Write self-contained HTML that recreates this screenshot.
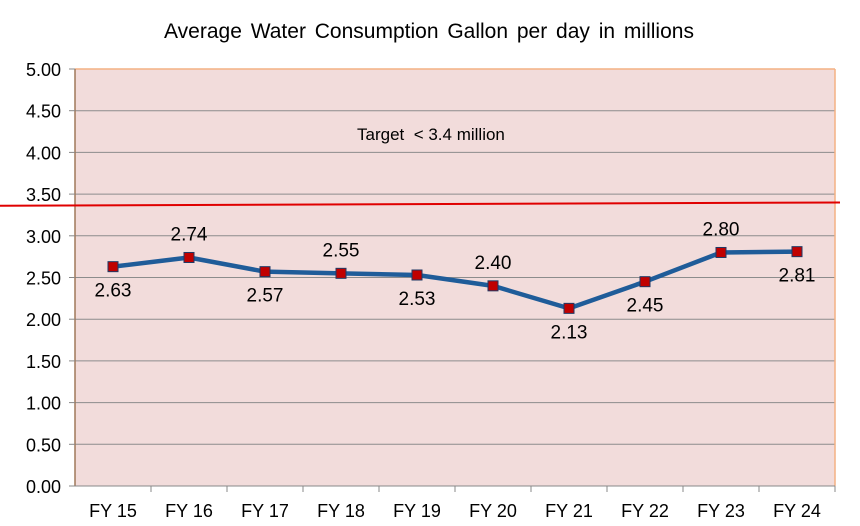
<!DOCTYPE html>
<html><head><meta charset="utf-8"><style>
body{margin:0;background:#fff;}
svg{display:block;font-family:"Liberation Sans",Arial,sans-serif;}
</style></head><body>
<svg id="chart" width="860" height="526">
<text x="429" y="38" font-size="21" word-spacing="3" text-anchor="middle" fill="#000">Average Water Consumption  Gallon per day in millions</text>
<rect x="75" y="69" width="760" height="417" fill="#f2dcdb"/>
<g id="grid"></g>
<line x1="75" y1="69" x2="835" y2="69" stroke="#f4b183" stroke-width="1.5"/>
<line x1="835" y1="69" x2="835" y2="486" stroke="#f4b183" stroke-width="1.5"/>
<line x1="75" y1="69" x2="75" y2="486" stroke="#a0785a" stroke-width="1.5"/>
<line x1="75" y1="486" x2="835" y2="486" stroke="#888" stroke-width="1"/>
<g id="ticks"></g>
<line id="target" stroke="#e00000" stroke-width="2"/>
<text x="357" y="140" font-size="17" xml:space="preserve" style="white-space:pre" fill="#000">Target  &lt; 3.4 million</text>
<g id="series"></g>
</svg>
<script>
const categories=["FY 15","FY 16","FY 17","FY 18","FY 19","FY 20","FY 21","FY 22","FY 23","FY 24"];
const values=[2.63,2.74,2.57,2.55,2.53,2.40,2.13,2.45,2.80,2.81];
const labelAbove=[false,true,false,true,false,true,false,false,true,false];
const yTicks=["0.00","0.50","1.00","1.50","2.00","2.50","3.00","3.50","4.00","4.50","5.00"];
const targetStart=3.36, targetEnd=3.40;
const NS="http://www.w3.org/2000/svg";
const L=75,R=835,T=69,B=486,yMax=5;
const y=v=>B-(v/yMax)*(B-T);
const bw=(R-L)/categories.length;
const x=i=>L+bw*(i+0.5);
function mk(tag,attrs,parent){const e=document.createElementNS(NS,tag);for(const k in attrs)e.setAttribute(k,attrs[k]);parent.appendChild(e);return e;}
const grid=document.getElementById('grid'),ticks=document.getElementById('ticks'),ser=document.getElementById('series');
yTicks.forEach(t=>{const v=parseFloat(t),yy=y(v);
 if(v>0&&v<yMax){const g=mk('line',{x1:L,x2:R,y1:yy,y2:yy,stroke:'#8c8c8c','stroke-width':1},grid);
 
 }
 const tk=mk('line',{x1:L-6,x2:L,y1:yy,y2:yy,stroke:'#888'},ticks);
 
 
 const tx=mk('text',{x:L-14,y:yy+7,'font-size':18,'text-anchor':'end',fill:'#000'},ticks);tx.textContent=t;
 
 
});
categories.forEach((c,i)=>{const xx=L+bw*(i+1);
 const tk=mk('line',{x1:xx,x2:xx,y1:B,y2:B+6,stroke:'#888'},ticks);
 
 
 const tx=mk('text',{x:x(i),y:B+31,'font-size':18,'text-anchor':'middle',fill:'#000'},ticks);tx.textContent=c;
 
 
});
const tl=document.getElementById('target');
tl.setAttribute('x1',0);tl.setAttribute('x2',840);tl.setAttribute('y1',y(targetStart));tl.setAttribute('y2',y(targetEnd));
const pl=mk('polyline',{points:values.map((v,i)=>x(i)+','+y(v)).join(' '),fill:'none',stroke:'#1f5c99','stroke-width':4.5,'stroke-linejoin':'round'},ser);


values.forEach((v,i)=>{
 const m=mk('rect',{x:x(i)-5,y:y(v)-5,width:10,height:10,fill:'#c00000',stroke:'#1f3864','stroke-width':1},ser);
 
 
 const tx=mk('text',{x:x(i),y:labelAbove[i]?y(v)-17:y(v)+30,'font-size':19,'text-anchor':'middle',fill:'#000'},ser);
 tx.textContent=v.toFixed(2);
 
 
});
</script>
</body></html>
